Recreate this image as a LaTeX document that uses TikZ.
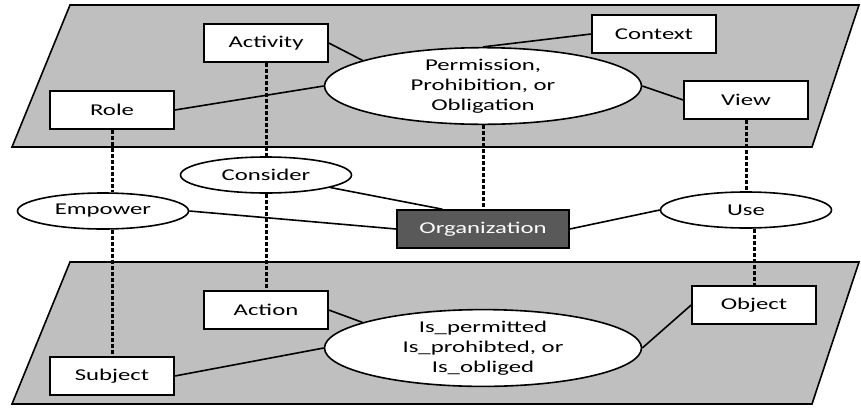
\documentclass[tikz,border=0pt]{standalone}
\usepackage{fontspec}
\setmainfont[FakeStretch=1.5]{Carlito}
\usepackage{tikz}
\usetikzlibrary{shapes.geometric}

\begin{document}
\begin{tikzpicture}[x=1pt, y=-1pt,
boxnode/.style={rectangle, draw=black, fill=white, line width=1.6pt, minimum width=124pt, minimum height=38pt, inner sep=0pt},
ovalnode/.style={ellipse, draw=black, fill=white, line width=1.6pt, minimum width=171pt, minimum height=36pt, inner sep=0pt},
bigoval/.style={ovalnode, minimum width=317pt, minimum height=66pt, align=center},
orgnode/.style={boxnode, fill=black!65, text=white, minimum width=172pt},
plane/.style={draw=black, fill=black!25, line width=1.6pt},
solidline/.style={line width=1.6pt},
dashline/.style={line width=3pt, dash pattern=on 4pt off 2pt},
every node/.style={font=\fontsize{16.5}{20}\selectfont},
]
\useasboundingbox (0,0) rectangle (861,407);

%Planes
\filldraw[plane] (70,5) -- (859,5) -- (812,147) -- (12,147) -- cycle;
\filldraw[plane] (70,262) -- (859,262) -- (812,404) -- (12,404) -- cycle;

%Nodes
\node[boxnode]   (activity) at (266,43)  {Activity};
\node[boxnode]   (role)     at (112,110) {Role};
\node[boxnode]   (context)  at (654,34)  {Context};
\node[boxnode]   (view)     at (746,100) {View};
\node[bigoval]   (perm)     at (483,86)  {Permission,\\Prohibition, or\\Obligation};

\node[ovalnode]  (consider) at (266,175) {Consider};
\node[ovalnode]  (empower)  at (103,211) {Empower};
\node[ovalnode]  (use)      at (746,210) {Use};
\node[orgnode]   (org)      at (483,229) {Organization};

\node[boxnode]   (action)   at (266,310) {Action};
\node[boxnode]   (subject)  at (112,376) {Subject};
\node[boxnode]   (object)   at (754,305) {Object};
\node[bigoval]   (isperm)   at (483,348) {Is\_permitted\\Is\_prohibted, or\\Is\_obliged};

%Lines
\draw[solidline] (activity.east) -- (perm.168);
\draw[solidline] (role.east) -- (perm.west);
\draw[solidline] (context.west) -- (perm.north);
\draw[solidline] (perm.east) -- (view.west);

\draw[solidline] (consider.-11) -- (org.154);
\draw[solidline] (empower.east) -- (org.west);
\draw[solidline] (org.east) -- (use.west);

\draw[solidline] (action.east) -- (isperm.168);
\draw[solidline] (subject.east) -- (isperm.west);
\draw[solidline] (isperm.east) -- (object.west);

\draw[dashline] (perm.south) -- (org.north);
\draw[dashline] (activity.south) -- (consider.north);
\draw[dashline] (consider.south) -- (action.north);
\draw[dashline] (role.south) -- (role.south |- empower.north);
\draw[dashline] (subject.north |- empower.south) -- (subject.north);
\draw[dashline] (view.south) -- (use.north);
\draw[dashline] (object.north |- use.south) -- (object.north);
\end{tikzpicture}
\end{document}
